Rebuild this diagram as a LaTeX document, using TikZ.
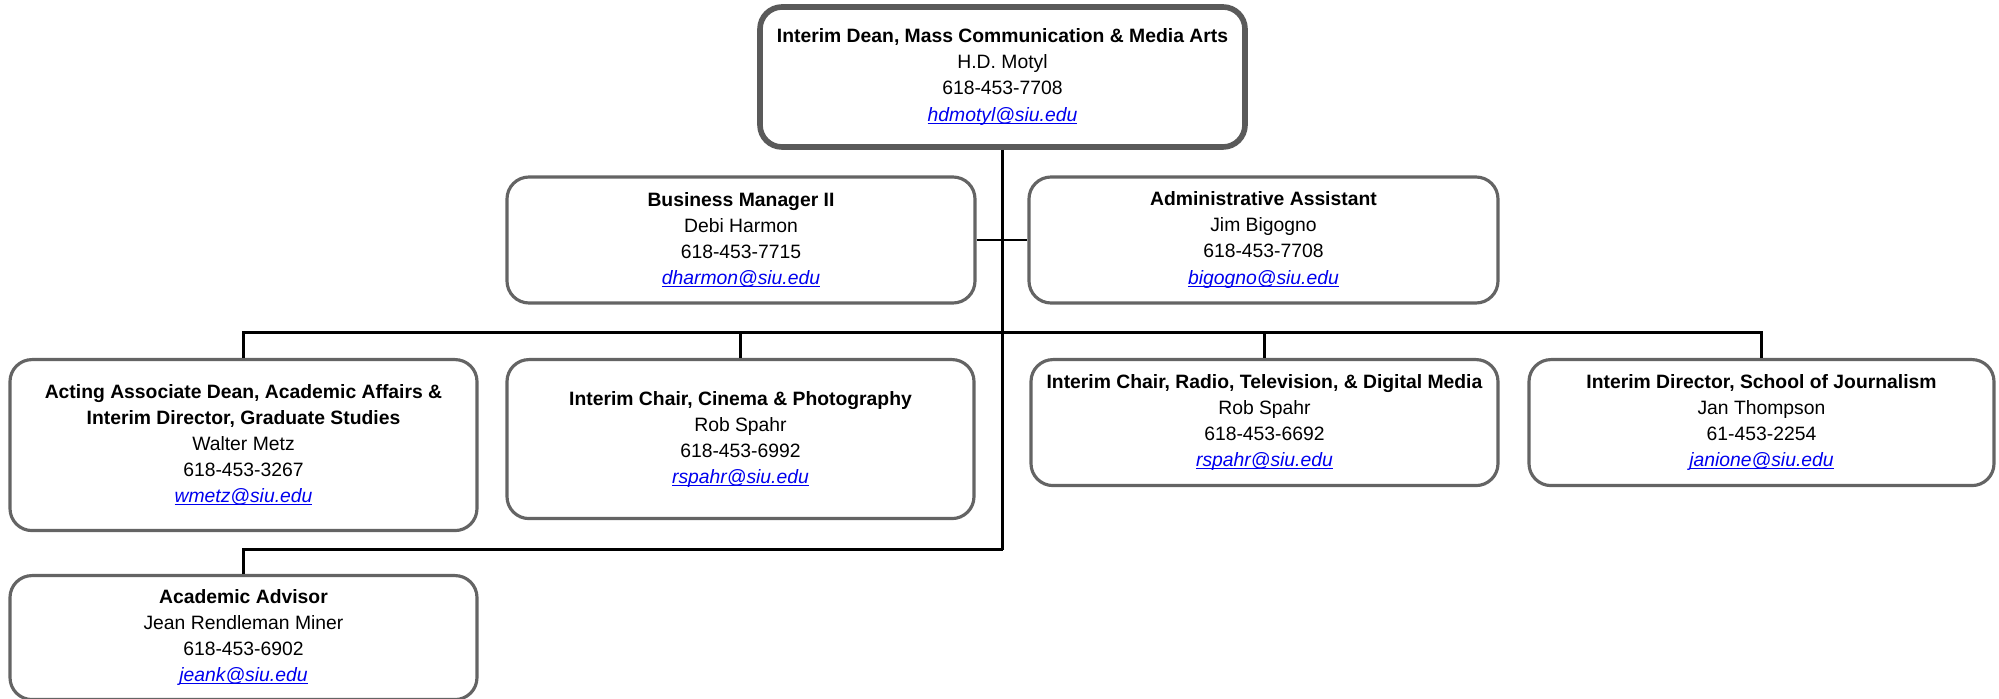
\documentclass[tikz,border=0pt]{standalone}
\usepackage{fontspec}
\setmainfont{Liberation Sans}
\usepackage{xcolor}
\usepackage{tikz}
\usetikzlibrary{positioning, calc}
\definecolor{linkblue}{RGB}{0,0,238}
\definecolor{boxgray}{RGB}{100,100,100}
\newcommand{\emaillink}[1]{\textcolor{linkblue}{\setbox0\hbox{\textit{#1}}\rlap{\rule[-0.25ex]{\wd0}{0.3pt}}\box0}}

\begin{document}
\begin{tikzpicture}[
    unit/.style={rectangle, rounded corners=0.22cm, draw=boxgray, line width=0.9pt, fill=white,
                 minimum width=4.67cm, minimum height=1.26cm, align=center,
                 font=\fontsize{5.5}{7.4}\selectfont, inner sep=0pt,
                 execute at begin node={\rule{0pt}{6.8pt}}},
    dean/.style={unit, line width=1.6pt, draw=boxgray!90!black, minimum width=4.85cm, minimum height=1.40cm},
    wire/.style={draw=black, line width=0.75pt}
]
\useasboundingbox (0,0) rectangle (19.99,-6.99);

\node[dean] (dean) at (10.025,-0.77) {\textbf{Interim Dean, Mass Communication \& Media Arts}\\H.D. Motyl\\618-453-7708\\\emaillink{hdmotyl@siu.edu}};

\node[unit, minimum width=4.68cm] (business) at (7.41,-2.40) {\textbf{Business Manager II}\\Debi Harmon\\618-453-7715\\\emaillink{dharmon@siu.edu}};
\node[unit, minimum width=4.69cm] (admin) at (12.635,-2.40) {\textbf{Administrative Assistant}\\Jim Bigogno\\618-453-7708\\\emaillink{bigogno@siu.edu}};

\node[unit, anchor=north, minimum height=1.71cm] (assocdean) at (2.435,-3.58) {\textbf{Acting Associate Dean, Academic Affairs \&}\\\textbf{Interim Director, Graduate Studies}\\Walter Metz\\618-453-3267\\\emaillink{wmetz@siu.edu}};
\node[unit, anchor=north, minimum height=1.59cm] (cinema) at (7.405,-3.58) {\textbf{Interim Chair, Cinema \& Photography}\\Rob Spahr\\618-453-6992\\\emaillink{rspahr@siu.edu}};
\node[unit, anchor=north] (radio) at (12.645,-3.58) {\textbf{Interim Chair, Radio, Television, \& Digital Media}\\Rob Spahr\\618-453-6692\\\emaillink{rspahr@siu.edu}};
\node[unit, anchor=north, minimum width=4.65cm] (journalism) at (17.615,-3.58) {\textbf{Interim Director, School of Journalism}\\Jan Thompson\\61-453-2254\\\emaillink{janione@siu.edu}};

\node[unit, anchor=north, minimum height=1.24cm] (advisor) at (2.435,-5.74) {\textbf{Academic Advisor}\\Jean Rendleman Miner\\618-453-6902\\\emaillink{jeank@siu.edu}};

% connectors
\coordinate (bus) at ($(dean.south)+(0,-1.83)$);
\coordinate (low) at ($(dean.south)+(0,-4.00)$);
\draw[wire] (dean.south) -- (low);
\draw[wire] (business.east) -- (admin.west);
\draw[wire] (assocdean.north) |- (bus) -| (journalism.north);
\draw[wire] (cinema.north) -- (cinema.north |- bus);
\draw[wire] (radio.north) -- (radio.north |- bus);
\draw[wire] (low) -| (advisor.north);
\end{tikzpicture}
\end{document}
